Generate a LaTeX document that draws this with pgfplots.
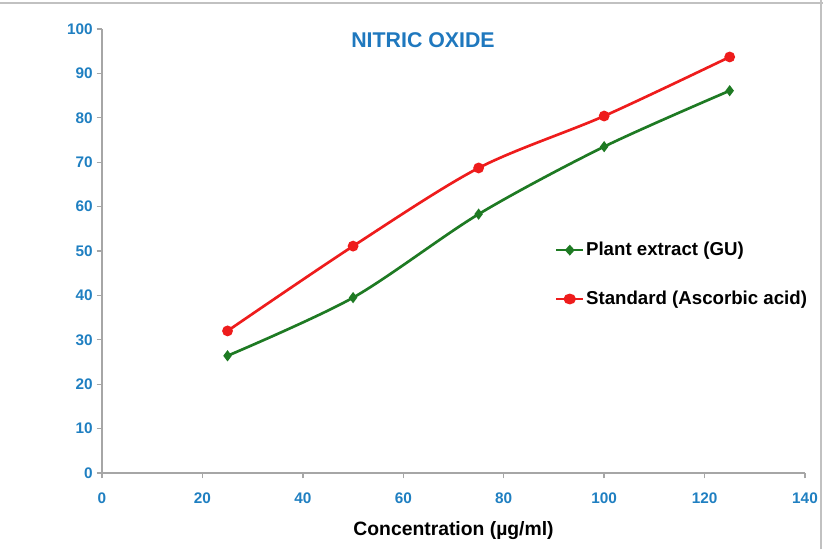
\documentclass[border=0pt]{standalone}
\usepackage{pgfplots}
\pgfplotsset{compat=1.18}
\usepackage{fontspec}
\setmainfont{Liberation Sans}
\definecolor{tickblue}{HTML}{1F7FC1}
\definecolor{titleblue}{HTML}{1F78BE}
\definecolor{pgreen}{HTML}{1E7A23}
\definecolor{pred}{HTML}{EE1C1C}
\definecolor{axgray}{HTML}{A6A6A6}
\begin{document}
\begin{tikzpicture}[x=0.75pt,y=0.75pt]
\path[use as bounding box] (0,0) rectangle (823,549);
\draw[axgray!70, line width=1pt] (0,546) -- (823,546);
\draw[axgray!70, line width=1pt] (821,0) -- (821,549);
\begin{axis}[
  at={(76.5pt,57pt)}, anchor=origin,
  scale only axis, width=527.25pt, height=333pt,
  xmin=0, xmax=140, ymin=0, ymax=100,
  xtick={0,20,...,140}, ytick={0,10,...,100},
  axis x line=bottom, axis y line=left,
  axis line style={axgray, line width=1.2pt, -},
  tick style={axgray, line width=1pt},
  major tick length=4pt,
  xtick align=outside, ytick align=outside,
  tick label style={font=\bfseries\fontsize{11.5}{13}\selectfont, text=tickblue},
  /pgf/number format/assume math mode=true,
  xticklabel style={yshift=-7pt},
  yticklabel style={xshift=0.5pt},
  xlabel={Concentration  (µg/ml)},
  xlabel style={font=\bfseries\fontsize{14.5}{17}\selectfont, yshift=-7pt},
  legend style={at={(rel axis cs:0.638,0.532)}, anchor=north west, draw=none, fill=none,
    font=\bfseries\fontsize{14}{16}\selectfont, row sep=21pt,
    nodes={inner xsep=1pt}},
  legend cell align=left,
  legend image post style={xscale=1.2},
  clip=false,
]
\addplot[pgreen, line width=2pt, smooth, tension=0.5, mark=diamond*, mark size=2.6pt, mark options={solid}]
coordinates {(25,26.4) (50,39.5) (75,58.3) (100,73.5) (125,86.1)};
\addlegendentry{Plant extract  (GU)}
\addplot[pred, line width=2pt, smooth, tension=0.5, mark=*, mark size=3pt]
coordinates {(25,32.0) (50,51.1) (75,68.7) (100,80.4) (125,93.7)};
\addlegendentry{Standard  (Ascorbic  acid)}
\end{axis}
\node[text=titleblue, font=\bfseries\fontsize{16}{18}\selectfont] at (423,509) {NITRIC OXIDE};
\end{tikzpicture}
\end{document}
